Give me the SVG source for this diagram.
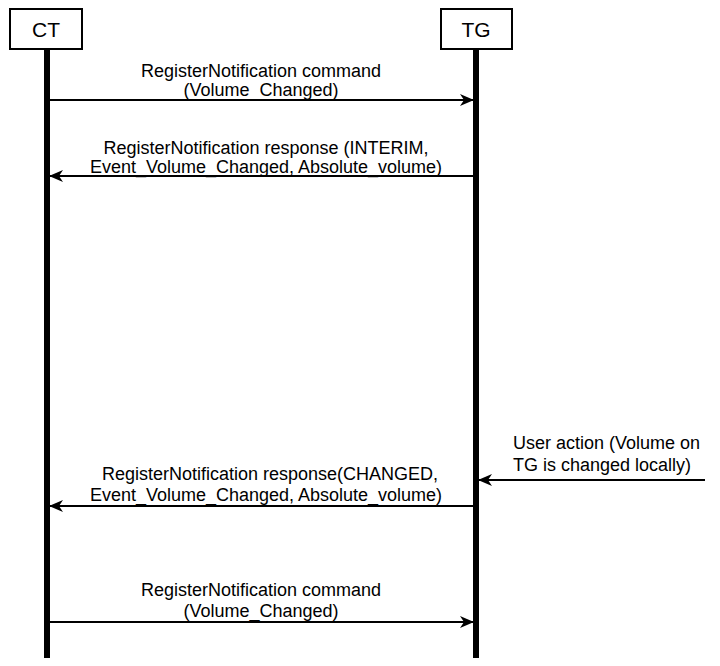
<svg xmlns="http://www.w3.org/2000/svg" width="720" height="666" viewBox="0 0 720 666">
<defs>
<style>
.box{fill:#fff;stroke:#000;stroke-width:2}
.life{stroke:#000;stroke-width:6}
.msg{stroke:#000;stroke-width:2;fill:none}
text{font-family:"Liberation Sans",Arial,sans-serif;font-size:18px;fill:#000}
.c{text-anchor:middle}
.n{font-size:21px}
</style>
<marker id="ah" markerWidth="14" markerHeight="12" refX="13" refY="6" orient="auto" markerUnits="userSpaceOnUse">
<path d="M0,0 L14,6 L0,12 L4,6 Z" fill="#000"/>
</marker>
</defs>
<g id="CT">
<rect class="box" x="10" y="9" width="72" height="40"/>
<text class="c n" x="46" y="37">CT</text>
<line class="life" x1="47" y1="49" x2="47" y2="658"/>
</g>
<g id="TG">
<rect class="box" x="441" y="9" width="71" height="40"/>
<text class="c n" x="476" y="37">TG</text>
<line class="life" x1="476" y1="49" x2="476" y2="658"/>
</g>
<g id="connectors">
<line class="msg" x1="50" y1="100" x2="473" y2="100" marker-end="url(#ah)"/>
<line class="msg" x1="473" y1="176" x2="50" y2="176" marker-end="url(#ah)"/>
<line class="msg" x1="705" y1="480" x2="479" y2="480" marker-end="url(#ah)"/>
<line class="msg" x1="473" y1="506" x2="50" y2="506" marker-end="url(#ah)"/>
<line class="msg" x1="50" y1="622" x2="473" y2="622" marker-end="url(#ah)"/>
</g>
<g id="labels">
<text class="c" x="261" y="77">RegisterNotification command</text>
<text class="c" x="261" y="96">(Volume_Changed)</text>
<text class="c" x="266" y="154">RegisterNotification response (INTERIM,</text>
<text class="c" x="266" y="173">Event_Volume_Changed, Absolute_volume)</text>
<text x="513" y="449">User action (Volume on</text>
<text x="513" y="471">TG is changed locally)</text>
<text class="c" x="270" y="480">RegisterNotification response(CHANGED,</text>
<text class="c" x="266" y="501">Event_Volume_Changed, Absolute_volume)</text>
<text class="c" x="261" y="596">RegisterNotification command</text>
<text class="c" x="261" y="617">(Volume_Changed)</text>
</g>
</svg>
